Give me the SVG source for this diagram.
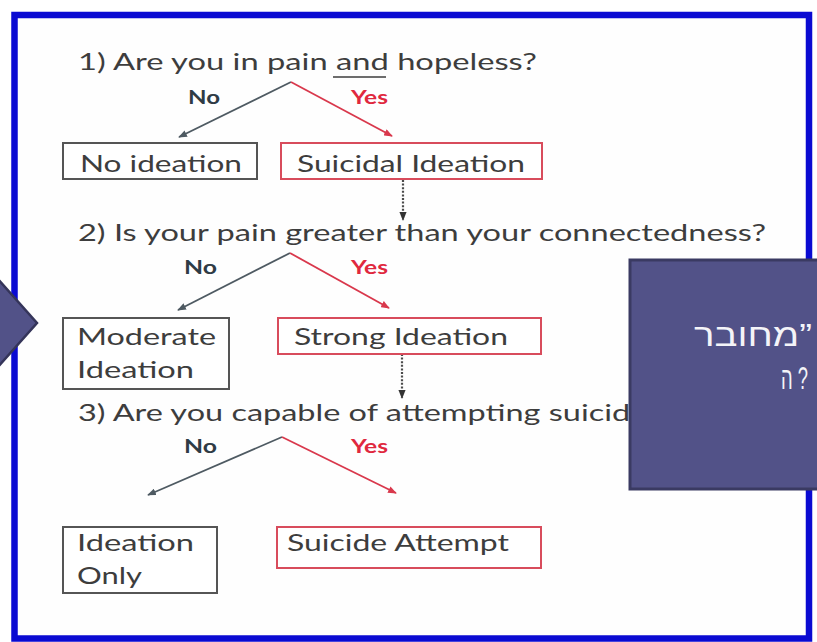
<svg xmlns="http://www.w3.org/2000/svg" width="817" height="642" viewBox="0 0 817 642">
  <defs>
    <style>
      .q { font-family: Lato, "Liberation Sans", sans-serif; font-size: 24px; fill: #3d3d3d; }
      .bt { font-family: Lato, "Liberation Sans", sans-serif; font-size: 24px; fill: #3d3d3d; }
      .no { font-family: Lato, "Liberation Sans", sans-serif; font-size: 18px; font-weight: bold; fill: #2f3b45; }
      .yes { font-family: Lato, "Liberation Sans", sans-serif; font-size: 18px; font-weight: bold; fill: #e0283e; }
      .box-n { fill: #ffffff; stroke: #555555; stroke-width: 2; }
      .box-y { fill: #ffffff; stroke: #d84c5c; stroke-width: 2; }
      .br-n { fill: none; stroke: #4e5a62; stroke-width: 1.8; marker-end: url(#ah-n); }
      .br-y { fill: none; stroke: #d9384c; stroke-width: 1.8; marker-end: url(#ah-y); }
      .dot { fill: none; stroke: #4a4a4a; stroke-width: 2.2; stroke-dasharray: 2 1.6; marker-end: url(#ah-d); }
      .heb { font-family: "Liberation Sans", "DejaVu Sans", sans-serif; font-size: 31px; fill: #f4f4f8; }
    </style>
    <marker id="ah-n" viewBox="0 0 10 8" refX="9" refY="4" markerWidth="9" markerHeight="7" markerUnits="userSpaceOnUse" orient="auto">
      <path d="M0,0 L10,4 L0,8 z" fill="#4e5a62"/>
    </marker>
    <marker id="ah-y" viewBox="0 0 10 8" refX="9" refY="4" markerWidth="9" markerHeight="7" markerUnits="userSpaceOnUse" orient="auto">
      <path d="M0,0 L10,4 L0,8 z" fill="#d9384c"/>
    </marker>
    <marker id="ah-d" viewBox="0 0 10 8" refX="9" refY="4" markerWidth="9" markerHeight="8" markerUnits="userSpaceOnUse" orient="auto">
      <path d="M0,0 L10,4 L0,8 z" fill="#333333"/>
    </marker>
  </defs>

  <!-- page -->
  <rect x="0" y="0" width="817" height="642" fill="#ffffff"/>
  <rect id="frame" x="14.5" y="15" width="794.5" height="623.5" fill="#fefefe" stroke="#0a0ad2" stroke-width="6.5"/>

  <!-- questions -->
  <g id="q1">
    <text class="q" x="78" y="70" textLength="459" lengthAdjust="spacingAndGlyphs">1) Are you in pain and hopeless?</text>
    <line x1="333" y1="77" x2="386" y2="77" stroke="#3d3d3d" stroke-width="1.5"/>
  </g>
  <g id="q2">
    <text class="q" x="78" y="241" textLength="688" lengthAdjust="spacingAndGlyphs">2) Is your pain greater than your connectedness?</text>
  </g>
  <g id="q3">
    <text class="q" x="78" y="421" textLength="583" lengthAdjust="spacingAndGlyphs">3) Are you capable of attempting suicide?</text>
  </g>

  <!-- connectors -->
  <g id="connectors">
    <polyline class="br-n" points="291,82 179,137"/>
    <polyline class="br-y" points="291,82 392,136"/>
    <polyline class="br-n" points="290,253 178,310"/>
    <polyline class="br-y" points="290,253 389,308"/>
    <polyline class="br-n" points="282,437 148,495"/>
    <polyline class="br-y" points="282,437 396,493"/>
    <line class="dot" x1="403" y1="180" x2="403" y2="220"/>
    <line class="dot" x1="402" y1="354" x2="402" y2="398"/>
  </g>

  <!-- branch labels -->
  <g id="labels">
    <text class="no" x="188" y="104" textLength="32" lengthAdjust="spacingAndGlyphs">No</text>
    <text class="yes" x="351" y="104" textLength="37" lengthAdjust="spacingAndGlyphs">Yes</text>
    <text class="no" x="184" y="274" textLength="33" lengthAdjust="spacingAndGlyphs">No</text>
    <text class="yes" x="351" y="274" textLength="37" lengthAdjust="spacingAndGlyphs">Yes</text>
    <text class="no" x="184" y="453" textLength="33" lengthAdjust="spacingAndGlyphs">No</text>
    <text class="yes" x="351" y="453" textLength="37" lengthAdjust="spacingAndGlyphs">Yes</text>
  </g>

  <!-- outcome nodes -->
  <g id="no-ideation">
    <rect class="box-n" x="63" y="143" width="194" height="36"/>
    <text class="bt" x="80" y="172" textLength="162" lengthAdjust="spacingAndGlyphs">No ideation</text>
  </g>
  <g id="suicidal-ideation">
    <rect class="box-y" x="281" y="143" width="261" height="36"/>
    <text class="bt" x="297" y="172" textLength="228" lengthAdjust="spacingAndGlyphs">Suicidal Ideation</text>
  </g>
  <g id="moderate-ideation">
    <rect class="box-n" x="63" y="318" width="166" height="71"/>
    <text class="bt" x="77" y="345" textLength="139" lengthAdjust="spacingAndGlyphs">Moderate</text>
    <text class="bt" x="77" y="378" textLength="117" lengthAdjust="spacingAndGlyphs">Ideation</text>
  </g>
  <g id="strong-ideation">
    <rect class="box-y" x="278" y="318" width="263" height="36"/>
    <text class="bt" x="294" y="345" textLength="214" lengthAdjust="spacingAndGlyphs">Strong Ideation</text>
  </g>
  <g id="ideation-only">
    <rect class="box-n" x="63" y="527" width="154" height="66"/>
    <text class="bt" x="77" y="551" textLength="117" lengthAdjust="spacingAndGlyphs">Ideation</text>
    <text class="bt" x="77" y="584" textLength="65" lengthAdjust="spacingAndGlyphs">Only</text>
  </g>
  <g id="suicide-attempt">
    <rect class="box-y" x="277" y="527" width="264" height="41"/>
    <text class="bt" x="287" y="551" textLength="222" lengthAdjust="spacingAndGlyphs">Suicide Attempt</text>
  </g>

  <!-- overlay shapes -->
  <g id="pointer">
    <polygon points="-10,270 37,323 -10,376" fill="#525288" stroke="#35355a" stroke-width="2.5" stroke-linejoin="miter"/>
  </g>
  <g id="callout">
    <rect x="630" y="260" width="200" height="229" fill="#525288" stroke="#3a3a62" stroke-width="3"/>
    <text class="heb" x="694" y="346" textLength="118" lengthAdjust="spacingAndGlyphs">מחובר”</text>
    <text class="heb" x="781" y="389" textLength="27" lengthAdjust="spacingAndGlyphs">ה ?</text>
  </g>
</svg>
